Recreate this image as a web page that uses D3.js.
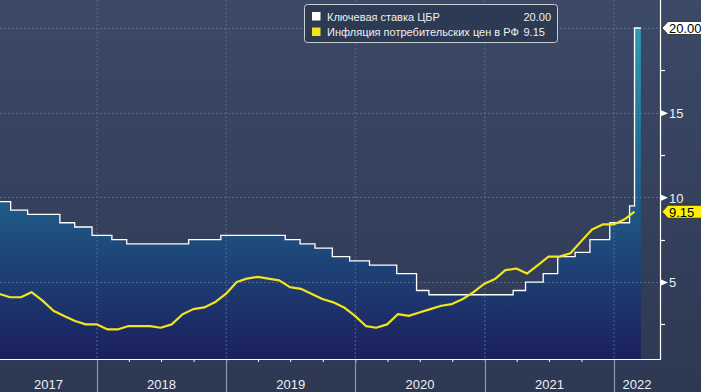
<!DOCTYPE html>
<html><head><meta charset="utf-8">
<script src="https://cdn.jsdelivr.net/npm/d3@7"></script>
<style>html,body{margin:0;padding:0;background:#2e3a53;}svg{display:block;}</style>
</head><body>
<svg id="c" width="701" height="392"></svg>
<script>
// ---- data ----
const rateDates = ["2017-03-27","2017-05-02","2017-06-19","2017-09-18","2017-10-30","2017-12-18","2018-02-12","2018-03-26","2018-09-17","2018-12-17","2019-06-17","2019-07-29","2019-09-09","2019-10-28","2019-12-16","2020-02-10","2020-04-27","2020-06-22","2020-07-27","2021-03-22","2021-04-26","2021-06-15","2021-07-26","2021-09-13","2021-10-25","2021-12-20","2022-02-14","2022-02-28","2022-03-18"];
const rateValues = [9.75,9.25,9.0,8.5,8.25,7.75,7.5,7.25,7.5,7.75,7.5,7.25,7.0,6.5,6.25,6.0,5.5,4.5,4.25,4.5,5.0,5.5,6.5,6.75,7.5,8.5,9.5,20.0,20.0];
const cpiDates = ["2017-03-31","2017-04-30","2017-05-31","2017-06-30","2017-07-31","2017-08-31","2017-09-30","2017-10-31","2017-11-30","2017-12-31",
"2018-01-31","2018-02-28","2018-03-31","2018-04-30","2018-05-31","2018-06-30","2018-07-31","2018-08-31","2018-09-30","2018-10-31","2018-11-30","2018-12-31",
"2019-01-31","2019-02-28","2019-03-31","2019-04-30","2019-05-31","2019-06-30","2019-07-31","2019-08-31","2019-09-30","2019-10-31","2019-11-30","2019-12-31",
"2020-01-31","2020-02-29","2020-03-31","2020-04-30","2020-05-31","2020-06-30","2020-07-31","2020-08-31","2020-09-30","2020-10-31","2020-11-30","2020-12-31",
"2021-01-31","2021-02-28","2021-03-31","2021-04-30","2021-05-31","2021-06-30","2021-07-31","2021-08-31","2021-09-30","2021-10-31","2021-11-30","2021-12-31",
"2022-01-31","2022-02-28"];
const cpiValues = [4.3,4.1,4.1,4.4,3.9,3.3,3.0,2.7,2.5,2.5,
2.2,2.2,2.4,2.4,2.4,2.3,2.5,3.1,3.4,3.5,3.8,4.3,
5.0,5.2,5.3,5.2,5.1,4.7,4.6,4.3,4.0,3.8,3.5,3.0,
2.4,2.3,2.5,3.1,3.0,3.2,3.4,3.6,3.7,4.0,4.4,4.9,
5.2,5.7,5.8,5.5,6.0,6.5,6.5,6.7,7.4,8.1,8.4,8.4,
8.7,9.15];
const yearLabels = ["2017","2018","2019","2020","2021","2022"];
const yMajorTicks = [5,10,15];
const yMinorTicks = [2.5,7.5,12.5,17.5];
const legendNames = ["Ключевая ставка ЦБР","Инфляция потребительских цен в РФ"];
const legendLast = ["20.00","9.15"];
const seriesColors = ["#ffffff","#f2e51c"];

// ---- layout ----
const W = 701, H = 392;
const plotR = 660, plotB = 359;
const parse = d3.timeParse("%Y-%m-%d");
const x = d3.scaleTime().domain([parse("2018-01-01"), parse("2022-01-01")]).range([97, 614]);
const y = d3.scaleLinear().domain([0, 20]).range([366.7, 28]);

const rate = rateDates.map((d,i)=>({d:parse(d), v:rateValues[i]}));
const cpi = cpiDates.map((d,i)=>({d:parse(d), v:cpiValues[i]}));

const svg = d3.select("#c");
const defs = svg.append("defs");
const bg = defs.append("linearGradient").attr("id","bg").attr("x1",0).attr("y1",0).attr("x2",0).attr("y2",1);
bg.append("stop").attr("offset",0).attr("stop-color","#3c4967");
bg.append("stop").attr("offset",1).attr("stop-color","#2d3953");
const ag = defs.append("linearGradient").attr("id","ag").attr("gradientUnits","userSpaceOnUse")
  .attr("x1",0).attr("y1",y(20)).attr("x2",0).attr("y2",plotB);
ag.append("stop").attr("offset",0).attr("stop-color","#2c9db2");
ag.append("stop").attr("offset",0.52).attr("stop-color","#1f5b88");
ag.append("stop").attr("offset",1).attr("stop-color","#1b1f5d");
defs.append("clipPath").attr("id","clip").append("rect").attr("x",0).attr("y",0).attr("width",plotR).attr("height",plotB);

svg.append("rect").attr("width",W).attr("height",H).attr("fill","url(#bg)");

const g = svg.append("g").attr("clip-path","url(#clip)");
// area under key rate
g.append("path").datum(rate)
  .attr("d", d3.area().curve(d3.curveStepAfter).x(d=>x(d.d)).y0(plotB).y1(d=>y(d.v)))
  .attr("fill","url(#ag)");

// gridlines
const years = d3.timeYear.range(parse("2018-01-01"), parse("2023-01-01"));
g.selectAll(".vg").data(years).join("line")
  .attr("x1",d=>x(d)).attr("x2",d=>x(d)).attr("y1",0).attr("y2",plotB)
  .attr("stroke","#5f7394").attr("stroke-width",1).attr("stroke-dasharray","2,2").attr("opacity",0.8);
g.selectAll(".hg").data([5,10,15,20]).join("line")
  .attr("x1",0).attr("x2",plotR).attr("y1",d=>Math.round(y(d))+0.5).attr("y2",d=>Math.round(y(d))+0.5)
  .attr("stroke","#5f7394").attr("stroke-width",1).attr("stroke-dasharray","2,2").attr("opacity",0.8);

// key rate line (top edge only)
g.append("path").datum(rate)
  .attr("d", d3.line().curve(d3.curveStepAfter).x(d=>x(d.d)).y(d=>y(d.v)))
  .attr("fill","none").attr("stroke",seriesColors[0]).attr("stroke-width",1.3);
// CPI line
g.append("path").datum(cpi)
  .attr("d", d3.line().x(d=>x(d.d)).y(d=>y(d.v)))
  .attr("fill","none").attr("stroke",seriesColors[1]).attr("stroke-width",2.2).attr("stroke-linejoin","round");

// bottom axis (quarter ticks)
const xAxis = d3.axisBottom(x).ticks(d3.timeMonth.every(3)).tickSize(3).tickFormat("");
const xa = svg.append("g").attr("transform",`translate(0,${plotB})`).call(xAxis);
xa.select(".domain").remove();
xa.selectAll(".tick line").attr("stroke","#ffffff").attr("stroke-width",1);
xa.selectAll(".tick").filter(d=>x(d)<1||x(d)>plotR-1).remove();
svg.append("line").attr("x1",0).attr("x2",plotR+0.5).attr("y1",plotB+0.5).attr("y2",plotB+0.5).attr("stroke","#ffffff").attr("stroke-width",1.2);
// year dividers
svg.selectAll(".yd").data(years.filter(d=>x(d)<plotR)).join("line")
  .attr("x1",d=>Math.round(x(d))+0.5).attr("x2",d=>Math.round(x(d))+0.5).attr("y1",plotB+1).attr("y2",H)
  .attr("stroke","#8d97aa").attr("stroke-width",1.2);
// year labels centred in visible span
const bounds = [0, ...years.filter(d=>x(d)<plotR).map(d=>x(d)), plotR];
svg.selectAll(".yl").data(yearLabels).join("text")
  .attr("x",(d,i)=>(bounds[i]+bounds[i+1])/2).attr("y",389)
  .attr("text-anchor","middle").attr("fill","#eef0f4")
  .attr("font-family","Liberation Sans, Arial, sans-serif").attr("font-size",13).text(d=>d);

// right axis
svg.append("line").attr("x1",plotR+0.5).attr("x2",plotR+0.5).attr("y1",0).attr("y2",plotB+1).attr("stroke","#ffffff").attr("stroke-width",1.2);
const yAxis = d3.axisRight(y).tickValues(yMajorTicks).tickSize(0).tickPadding(9).tickFormat(d3.format("d"));
const ya = svg.append("g").attr("transform",`translate(${plotR},0)`).call(yAxis);
ya.select(".domain").remove();
ya.selectAll(".tick text").attr("fill","#eef0f4").attr("font-family","Liberation Sans, Arial, sans-serif").attr("font-size",13).attr("dy","0.36em");
ya.selectAll(".tick").append("path").attr("d","M0,-3.5L8,0L0,3.5Z").attr("fill","#ffffff");
svg.selectAll(".ym").data(yMinorTicks).join("line")
  .attr("x1",plotR).attr("x2",plotR+5).attr("y1",d=>Math.round(y(d))+0.5).attr("y2",d=>Math.round(y(d))+0.5)
  .attr("stroke","#ffffff").attr("stroke-width",1.2);

// value tags
const tagData = [{v:rateValues[rateValues.length-1], t:legendLast[0], fill:"#ffffff"},{v:cpiValues[cpiValues.length-1], t:legendLast[1], fill:"#ffef00"}];
const tags = svg.selectAll(".tag").data(tagData).join("g").attr("transform",d=>`translate(${plotR+2},${y(d.v)})`);
tags.append("path").attr("d","M0,0L6,-6.5L44,-6.5L44,6.5L6,6.5Z").attr("fill",d=>d.fill).attr("stroke","#222").attr("stroke-width",0.8);
tags.append("text").attr("x",7).attr("y",5).attr("fill","#000").attr("font-family","Liberation Sans, Arial, sans-serif").attr("font-size",13).text(d=>d.t);

// legend
const lg = svg.append("g");
lg.append("rect").attr("x",304.5).attr("y",4.5).attr("width",253).attr("height",38).attr("rx",3)
  .attr("fill","#2d3a53").attr("stroke","#c9ccd2").attr("stroke-width",1);
legendNames.forEach((n,i)=>{
  const yy = 12 + i*15.5;
  lg.append("rect").attr("x",312).attr("y",yy).attr("width",8.5).attr("height",8.5).attr("fill",seriesColors[i]);
  lg.append("text").attr("x",327).attr("y",yy+8.5).attr("fill","#f0f0f0").attr("font-family","Liberation Sans, Arial, sans-serif").attr("font-size",11).text(n);
  lg.append("text").attr("x",523.5).attr("y",yy+8.5).attr("fill","#f0f0f0").attr("font-family","Liberation Sans, Arial, sans-serif").attr("font-size",11).text(legendLast[i]);
});
</script>
</body></html>
